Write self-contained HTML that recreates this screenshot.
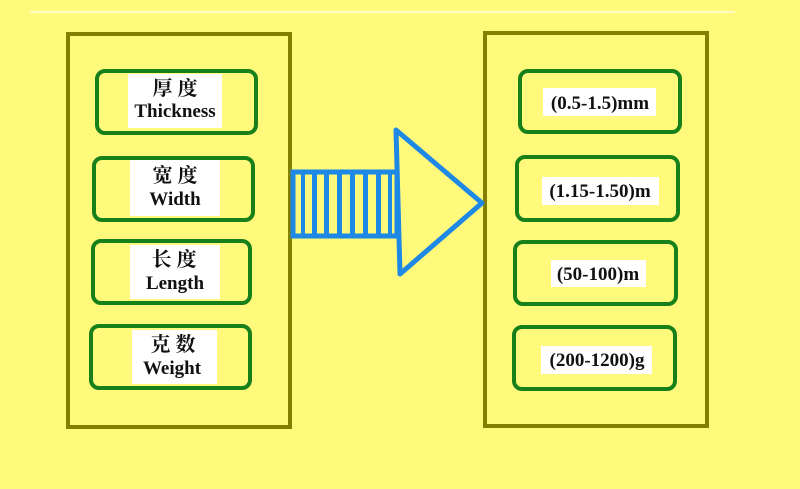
<!DOCTYPE html>
<html><head><meta charset="utf-8"><style>
html,body{margin:0;padding:0;background:#FFF97C;}
svg{display:block}
text{font-family:"Liberation Serif","Noto Serif CJK SC",serif;font-weight:bold;fill:#111;}
</style></head><body>
<svg width="800" height="489" viewBox="0 0 800 489" xmlns="http://www.w3.org/2000/svg">
<rect width="800" height="489" fill="#FFF97C"/>
<line x1="30" y1="12" x2="735" y2="12" stroke="#fffde0" stroke-width="1.5"/>
<rect x="68" y="34" width="222" height="393" fill="none" stroke="#838000" stroke-width="4"/>
<rect x="485" y="33" width="222" height="393" fill="none" stroke="#838000" stroke-width="4"/>
<g fill="none" stroke="#17801a" stroke-width="4">
<rect x="97" y="71" width="159" height="62" rx="8"/>
<rect x="94" y="158" width="159" height="62" rx="8"/>
<rect x="93" y="241" width="157" height="62" rx="8"/>
<rect x="91" y="326" width="159" height="62" rx="8"/>
<rect x="520" y="71" width="160" height="61" rx="8"/>
<rect x="517" y="157" width="161" height="63" rx="8"/>
<rect x="515" y="242" width="161" height="62" rx="8"/>
<rect x="514" y="327" width="161" height="62" rx="8"/>
</g>
<g fill="#fff">
<rect x="128" y="74" width="94" height="54"/>
<rect x="130" y="160" width="90" height="56"/>
<rect x="130" y="245" width="90" height="54"/>
<rect x="132" y="330" width="85" height="54"/>
<rect x="543" y="88" width="113" height="28"/>
<rect x="542" y="177" width="117" height="28"/>
<rect x="551" y="260" width="95" height="27"/>
<rect x="541" y="346" width="111" height="28"/>
</g>
<g font-size="19" text-anchor="middle">
<text x="175" y="95" font-weight="normal" font-size="20">厚  度</text>
<text x="175" y="117">Thickness</text>
<text x="175" y="182" font-weight="normal" font-size="20">宽  度</text>
<text x="175" y="205">Width</text>
<text x="174" y="266" font-weight="normal" font-size="20">长  度</text>
<text x="175" y="289">Length</text>
<text x="173" y="351" font-weight="normal" font-size="20">克  数</text>
<text x="172" y="374">Weight</text>
<text x="600" y="109">(0.5-1.5)mm</text>
<text x="600" y="197">(1.15-1.50)m</text>
<text x="598" y="280">(50-100)m</text>
<text x="597" y="366">(200-1200)g</text>
</g>
<g stroke="#1E88E5" fill="none">
<rect x="293" y="172" width="104" height="64" stroke-width="5"/>
<polygon points="396,130 482,203 400,274" stroke-width="5" stroke-linejoin="round"/>
</g>
<g fill="#1E88E5">
<rect x="301" y="172" width="4" height="64"/>
<rect x="312" y="172" width="5" height="64"/>
<rect x="324" y="172" width="5" height="64"/>
<rect x="337" y="172" width="5" height="64"/>
<rect x="350" y="172" width="5" height="64"/>
<rect x="363" y="172" width="5" height="64"/>
<rect x="376" y="172" width="5" height="64"/>
<rect x="388" y="172" width="4" height="64"/>
</g>
</svg>
</body></html>
